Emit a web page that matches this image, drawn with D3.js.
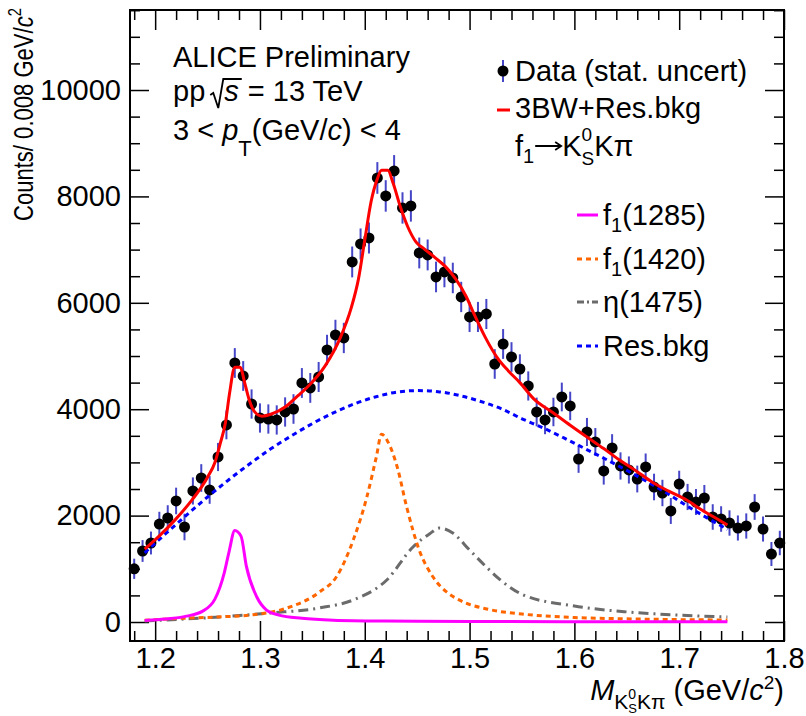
<!DOCTYPE html>
<html>
<head>
<meta charset="utf-8">
<script src="https://cdn.jsdelivr.net/npm/d3@7"></script>
<style>
body { margin: 0; background: #ffffff; }
text { font-family: "Liberation Sans", Arial, Helvetica, sans-serif; fill: #000; white-space: pre; }
</style>
</head>
<body>
<script>
// histogram: counts per 0.008 GeV/c2 bin, first bin centre at 1.180
var binStart = 1.18;
var binWidth = 0.008;
var counts = [1000,1335,1485,1842,1955,2275,1786,2463,2707,2482,
              3102,3704,4869,4625,4098,3835,3816,3798,3948,4004,
              4493,4400,4606,5114,5396,5339,6768,7106,7219,8347,
              8009,8479,7783,7821,6937,6900,6486,6580,6467,6110,
              5734,5734,5790,4850,5226,4982,4756,4437,3948,3798,
              3948,4230,4061,3064,3572,3384,2839,3271,2933,2858,
              2688,2914,2538,2425,2087,2594,2350,2256,2331,1974,
              1936,1861,1767,1805,2162,1748,1278,1485];
var errors = [190,205,215,230,240,250,250,255,260,260,
              265,270,280,280,275,275,275,275,275,278,
              280,280,282,285,285,285,290,292,292,298,
              296,298,295,295,290,290,288,288,287,285,
              283,283,283,278,280,278,276,274,270,268,
              268,270,268,260,264,262,256,260,256,255,
              252,254,250,248,244,250,246,244,245,240,
              240,238,236,237,242,236,226,230];

// fit curves (mass, value)
var totalMass = [1.190,1.203,1.219,1.235,1.250,1.257,1.262,1.267,1.271,1.276,1.281,1.286,1.290,1.295,1.302,1.311,1.324,1.336,1.347,1.362,1.377,1.387,1.394,1.400,1.406,1.412,1.416,1.422,1.427,1.434,1.441,1.449,1.457,1.467,1.477,1.487,1.497,1.504,1.515,1.526,1.537,1.548,1.561,1.580,1.596,1.612,1.628,1.643,1.659,1.674,1.690,1.707,1.722,1.738,1.746];
var totalFit  = [1370,1600,1920,2290,2720,3000,3350,3740,4300,4790,4790,4450,4160,3950,3870,3910,4040,4250,4450,4810,5360,5900,6450,7180,7900,8330,8490,8490,8250,7800,7430,7140,7010,6850,6680,6440,6110,5800,5350,4980,4720,4500,4200,3930,3700,3478,3260,3046,2840,2632,2460,2294,2100,1918,1824];

var f1285Mass = [1.19,1.21,1.23,1.245,1.257,1.266,1.2705,1.276,1.282,1.287,1.297,1.306,1.318,1.34,1.37,1.42,1.5,1.6,1.746];
var f1285Fit  = [30,55,110,200,430,930,1320,1720,1610,1050,470,230,130,70,35,18,10,5,3];

var f1420Mass = [1.19,1.22,1.26,1.293,1.326,1.357,1.373,1.389,1.402,1.411,1.416,1.422,1.431,1.440,1.452,1.465,1.478,1.49,1.52,1.55,1.6,1.65,1.7,1.746];
var f1420Fit  = [35,65,95,135,265,565,850,1540,2350,3100,3530,3390,2910,2160,1350,850,565,415,230,150,85,60,45,38];

var eta1475Mass = [1.19,1.262,1.31,1.357,1.389,1.421,1.446,1.462,1.4714,1.484,1.50,1.516,1.53,1.55,1.6,1.65,1.7,1.746];
var eta1475Fit  = [20,95,170,265,415,790,1410,1660,1767,1673,1353,1034,780,520,300,190,130,95];

var bkgMass = [1.19,1.21,1.23,1.25,1.27,1.29,1.31,1.33,1.35,1.37,1.39,1.41,1.43,1.45,1.47,1.49,1.51,1.53,1.55,1.57,1.59,1.61,1.63,1.65,1.67,1.69,1.71,1.73,1.746];
var bkgFit  = [1300,1660,2010,2350,2670,2970,3250,3500,3730,3930,4100,4230,4320,4350,4330,4260,4150,4010,3820,3650,3460,3260,3060,2850,2630,2400,2150,1920,1740];

// axis ticks
var xMajorTicks = [1.2,1.3,1.4,1.5,1.6,1.7,1.8];
var yMajorTicks = [0,2000,4000,6000,8000,10000];

// colours / styles
var errColor = "#4646c8";
var totalColor = "#ff0000";
var f1285Color = "#ff00ff";
var f1420Color = "#ff6600";
var etaColor = "#6b6b6b";
var bkgColor = "#0000ff";
var fontSize = 29;

var width = 806, height = 716;
var plotLeft = 130, plotRight = 784, plotTop = 10, plotBottom = 641;

var svg = d3.select("body").append("svg")
    .attr("width", width)
    .attr("height", height);

var x = d3.scaleLinear().domain([1.176, 1.8]).range([plotLeft, plotRight]);
var y = d3.scaleLinear().domain([-357, 11504]).range([plotBottom, plotTop]);

// minor tick positions
var xMinorTicks = d3.range(59, 91).map(function(i) { return i * 0.02; })
    .filter(function(v) { return Math.abs(v * 10 - Math.round(v * 10)) > 1e-6; });
var yMinorTicks = d3.range(0, 24).map(function(i) { return i * 500; })
    .filter(function(v) { return v % 2000 !== 0 && v < 11504; });

function styleAxis(g) {
	g.select(".domain").remove();
	g.selectAll("line").attr("stroke", "#000").attr("stroke-width", 1.5);
	g.attr("font-family", null).attr("font-size", fontSize);
	g.selectAll("text").attr("fill", "#000");
}

// bottom / top axes
svg.append("g").attr("transform", "translate(0," + plotBottom + ")")
    .call(d3.axisBottom(x).tickValues(xMajorTicks).tickSize(-20).tickPadding(6).tickFormat(d3.format(".1f")))
    .call(styleAxis);
svg.append("g").attr("transform", "translate(0," + plotBottom + ")")
    .call(d3.axisBottom(x).tickValues(xMinorTicks).tickSize(-10).tickFormat(""))
    .call(styleAxis);
svg.append("g").attr("transform", "translate(0," + plotTop + ")")
    .call(d3.axisTop(x).tickValues(xMajorTicks).tickSize(-20).tickFormat(""))
    .call(styleAxis);
svg.append("g").attr("transform", "translate(0," + plotTop + ")")
    .call(d3.axisTop(x).tickValues(xMinorTicks).tickSize(-10).tickFormat(""))
    .call(styleAxis);

// left / right axes
svg.append("g").attr("transform", "translate(" + plotLeft + ",0)")
    .call(d3.axisLeft(y).tickValues(yMajorTicks).tickSize(-19).tickPadding(9).tickFormat(d3.format("d")))
    .call(styleAxis);
svg.append("g").attr("transform", "translate(" + plotLeft + ",0)")
    .call(d3.axisLeft(y).tickValues(yMinorTicks).tickSize(-10).tickFormat(""))
    .call(styleAxis);
svg.append("g").attr("transform", "translate(" + plotRight + ",0)")
    .call(d3.axisRight(y).tickValues(yMajorTicks).tickSize(-19).tickFormat(""))
    .call(styleAxis);
svg.append("g").attr("transform", "translate(" + plotRight + ",0)")
    .call(d3.axisRight(y).tickValues(yMinorTicks).tickSize(-10).tickFormat(""))
    .call(styleAxis);

// frame
svg.append("rect")
    .attr("x", plotLeft).attr("y", plotTop)
    .attr("width", plotRight - plotLeft).attr("height", plotBottom - plotTop)
    .attr("fill", "none").attr("stroke", "#000").attr("stroke-width", 2);

// data points
var points = counts.map(function(c, i) {
	return { m: binStart + i * binWidth, c: c, e: errors[i] };
});
var g = svg.append("g");
g.selectAll("line.err").data(points).enter().append("line")
    .attr("class", "err")
    .attr("x1", function(d) { return x(d.m); })
    .attr("x2", function(d) { return x(d.m); })
    .attr("y1", function(d) { return y(d.c - d.e); })
    .attr("y2", function(d) { return y(d.c + d.e); })
    .attr("stroke", errColor).attr("stroke-width", 2);
g.selectAll("circle").data(points).enter().append("circle")
    .attr("cx", function(d) { return x(d.m); })
    .attr("cy", function(d) { return y(d.c); })
    .attr("r", 5.5)
    .attr("fill", "#000");

// fit curves
var line = d3.line()
    .x(function(d) { return x(d[0]); })
    .y(function(d) { return y(d[1]); })
    .curve(d3.curveMonotoneX);

function drawCurve(ms, vs, color, dash) {
	var pts = ms.map(function(m, i) { return [m, vs[i]]; });
	var p = g.append("path")
	    .attr("d", line(pts))
	    .attr("fill", "none")
	    .attr("stroke", color)
	    .attr("stroke-width", 3);
	if (dash) p.attr("stroke-dasharray", dash);
}
drawCurve(bkgMass, bkgFit, bkgColor, "5,4");
drawCurve(eta1475Mass, eta1475Fit, etaColor, "10,5,2,5");
drawCurve(f1420Mass, f1420Fit, f1420Color, "5,4");
drawCurve(f1285Mass, f1285Fit, f1285Color, null);
drawCurve(totalMass, totalFit, totalColor, null);

// text with sub/superscripts laid out piece by piece
function rich(parent, parts, px, py, anchor, squeezeTo) {
	var tg = parent.append("g");
	var cx = 0, stackW = 0;
	parts.forEach(function(p) {
		if (p.gap) { cx += p.gap; return; }
		if (p.arrow) {
			var a0 = cx + 1, a1 = cx + p.arrow - 1, ay = -10;
			tg.append("path")
			    .attr("d", "M" + a0 + "," + ay + " L" + a1 + "," + ay +
			          " M" + (a1 - 6) + "," + (ay - 4) + " L" + a1 + "," + ay + " L" + (a1 - 6) + "," + (ay + 4))
			    .attr("fill", "none").attr("stroke", "#000").attr("stroke-width", 1.8);
			cx += p.arrow;
			return;
		}
		var off = p.rad ? 14 : 0;
		var t = tg.append("text")
		    .attr("x", cx + off)
		    .attr("y", p.dy || 0)
		    .attr("font-size", p.fs || fontSize)
		    .text(p.t);
		if (p.it) t.attr("font-style", "italic");
		var w = t.node().getComputedTextLength();
		if (p.rad) {
			tg.append("path")
			    .attr("d", "M" + cx + ",-6 L" + (cx + 3) + ",-8 L" + (cx + 8) + ",7 L" + (cx + 13) + ",-22 L" + (cx + off + w + 3) + ",-22")
			    .attr("fill", "none").attr("stroke", "#000").attr("stroke-width", 1.8);
			w += off + 3;
		}
		if (p.stack) { stackW = w; }
		else { cx += Math.max(w, stackW); stackW = 0; }
	});
	var s = squeezeTo ? squeezeTo / cx : 1;
	var x0 = anchor === "end" ? px - cx * s : px;
	tg.attr("transform", "translate(" + x0 + "," + py + ") scale(" + s + ",1)");
	return tg;
}

// top-left labels
rich(svg, [{t: "ALICE Preliminary"}], 173, 67);
rich(svg, [{t: "pp"}, {gap: 5}, {rad: true, t: "s", it: true}, {gap: 6}, {t: "= 13 TeV"}], 173, 101);
rich(svg, [{t: "3 < "}, {t: "p", it: true}, {t: "T", fs: 22, dy: 16}, {t: "(GeV/"}, {t: "c", it: true}, {t: ") < 4"}], 173, 140);

// legend (upper)
svg.append("line").attr("x1", 503).attr("x2", 503).attr("y1", 60).attr("y2", 82)
    .attr("stroke", errColor).attr("stroke-width", 2);
svg.append("circle").attr("cx", 503).attr("cy", 71).attr("r", 5.5).attr("fill", "#000");
rich(svg, [{t: "Data (stat. uncert)"}], 515, 81);
svg.append("line").attr("x1", 497).attr("x2", 510).attr("y1", 110).attr("y2", 110)
    .attr("stroke", totalColor).attr("stroke-width", 3);
rich(svg, [{t: "3BW+Res.bkg"}], 515, 118);
rich(svg, [{t: "f"}, {t: "1", fs: 20, dy: 7}, {arrow: 28}, {t: "K"}, {t: "0", fs: 19, dy: -15, stack: true},
           {t: "S", fs: 19, dy: 9}, {t: "K\u03c0"}], 515, 156);

// legend (lower)
var lowerLegend = [
	{y: 215, color: f1285Color, dash: null, parts: [{t: "f"}, {t: "1", fs: 20, dy: 7}, {t: "(1285)"}]},
	{y: 259, color: f1420Color, dash: "5,4", parts: [{t: "f"}, {t: "1", fs: 20, dy: 7}, {t: "(1420)"}]},
	{y: 302, color: etaColor, dash: "7,3,2,3", parts: [{t: "\u03b7(1475)"}]},
	{y: 346, color: bkgColor, dash: "5,4", parts: [{t: "Res.bkg"}]}
];
lowerLegend.forEach(function(e) {
	var l = svg.append("line").attr("x1", 577).attr("x2", 598).attr("y1", e.y).attr("y2", e.y)
	    .attr("stroke", e.color).attr("stroke-width", 3);
	if (e.dash) l.attr("stroke-dasharray", e.dash);
	rich(svg, e.parts, 603, e.y + 10);
});

// axis titles
rich(svg, [{t: "M", it: true}, {t: "K", fs: 21, dy: 9}, {t: "0", fs: 14, dy: -1, stack: true}, {t: "S", fs: 13, dy: 13},
           {t: "K\u03c0", fs: 21, dy: 9}, {gap: 8}, {t: "(GeV/"}, {t: "c", it: true}, {t: "2", fs: 19, dy: -11}, {t: ")"}],
     784, 700, "end");

var yTitle = svg.append("g").attr("transform", "translate(33,8) rotate(-90)");
rich(yTitle, [{t: "Counts/ 0.008 GeV/", fs: 27}, {t: "c", it: true, fs: 27}, {t: "2", fs: 18, dy: -12}], 0, 0, "end", 213);
</script>
</body>
</html>
